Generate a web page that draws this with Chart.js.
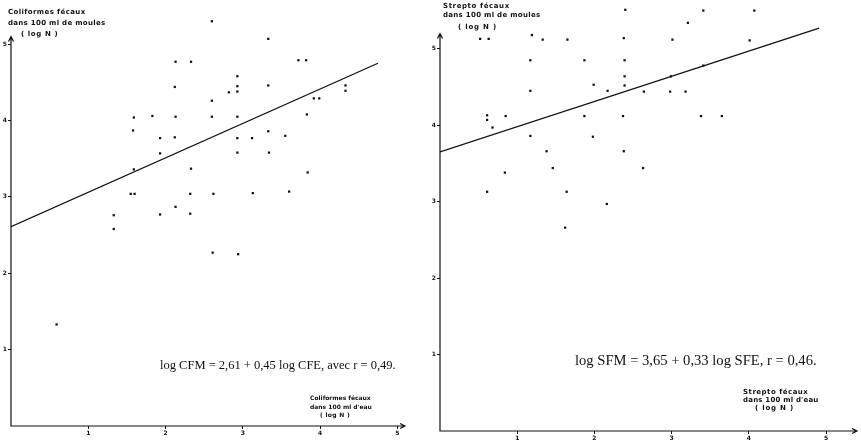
<!DOCTYPE html>
<html>
<head>
<meta charset="utf-8">
<script src="https://cdn.jsdelivr.net/npm/chart.js@4.4.1/dist/chart.umd.min.js"></script>
<style>
    body { margin: 0; background: #fff; }
    #wrap { position: relative; width: 861px; height: 444px; overflow: hidden; }
    .box { position: absolute; top: 0; height: 444px; }
    .lbl { position: absolute; white-space: nowrap; color: #111; font-family: "DejaVu Sans", sans-serif; font-weight: bold; line-height: 1; }
    .eq { position: absolute; white-space: nowrap; color: #111; font-family: "Liberation Serif", "Times New Roman", serif; line-height: 1; }
</style>
</head>
<body>
<div id="wrap">
    <div class="box" style="left:0;width:430px"><canvas id="cfChart"></canvas></div>
    <div class="box" style="left:430px;width:431px"><canvas id="sfChart"></canvas></div>
</div>
<script>
// Coliformes fecaux : log CFE (eau) -> log CFM (moules)
const cfeX = [2.60, 3.33, 2.13, 2.33, 3.72, 3.82, 2.93, 2.12, 2.93, 3.33,
              2.82, 2.93, 2.60, 3.92, 3.99, 4.33, 4.33, 1.59, 1.83, 2.13,
              2.60, 2.93, 3.83, 1.58, 1.93, 2.12, 2.93, 3.12, 3.33, 3.55,
              1.93, 2.93, 3.34, 1.59, 2.33, 3.84, 1.55, 1.60, 2.32, 2.62,
              3.13, 3.60, 1.33, 1.93, 2.13, 2.32, 1.33, 2.61, 2.94, 0.59];
const cfmY = [5.30, 5.07, 4.77, 4.77, 4.79, 4.79, 4.58, 4.44, 4.45, 4.46,
              4.37, 4.38, 4.26, 4.29, 4.29, 4.46, 4.39, 4.04, 4.06, 4.05,
              4.05, 4.05, 4.08, 3.87, 3.77, 3.78, 3.77, 3.77, 3.86, 3.80,
              3.57, 3.58, 3.58, 3.36, 3.37, 3.32, 3.04, 3.04, 3.04, 3.04,
              3.05, 3.07, 2.76, 2.77, 2.87, 2.78, 2.58, 2.27, 2.25, 1.33];

// Streptocoques fecaux : log SFE (eau) -> log SFM (moules)
const sfeX = [2.40, 3.41, 4.07, 3.21, 0.52, 0.63, 1.19, 1.33, 1.65, 2.38,
              3.01, 4.01, 1.17, 1.87, 2.39, 2.39, 2.99, 3.41, 1.99, 2.39,
              2.17, 2.64, 2.98, 3.18, 1.17, 0.61, 0.61, 0.68, 0.85, 1.87,
              2.37, 3.38, 3.65, 1.17, 1.98, 1.38, 2.38, 1.46, 2.63, 0.84,
              0.61, 1.64, 2.16, 1.62];
const sfmY = [5.51, 5.50, 5.50, 5.34, 5.13, 5.13, 5.18, 5.12, 5.12, 5.14,
              5.12, 5.11, 4.85, 4.85, 4.85, 4.64, 4.64, 4.78, 4.53, 4.52,
              4.45, 4.44, 4.44, 4.44, 4.45, 4.13, 4.07, 3.97, 4.12, 4.12,
              4.12, 4.12, 4.12, 3.86, 3.85, 3.66, 3.66, 3.44, 3.44, 3.38,
              3.13, 3.13, 2.97, 2.66];

// regression line ends
const cfLineX = [0, 4.75];
const cfLineY = [2.61, 4.75];
const sfLineX = [0, 4.91];
const sfLineY = [3.65, 5.27];

const xTicks = [1, 2, 3, 4, 5];
const yTicks = [1, 2, 3, 4, 5];

const toPoints = (xs, ys) => xs.map((x, i) => ({ x, y: ys[i] }));

// draws the two axes as arrows (the y axis stops below the highest points)
const arrowAxes = {
    id: 'arrowAxes',
    afterDatasetsDraw(chart, args, opts) {
        const { ctx, scales: { x, y } } = chart;
        const x0 = x.getPixelForValue(0);
        const y0 = y.getPixelForValue(0);
        const xEnd = x.getPixelForValue(opts.xEnd);
        const yEnd = y.getPixelForValue(opts.yEnd);
        ctx.save();
        ctx.strokeStyle = '#111';
        ctx.lineWidth = 1.2;
        ctx.beginPath();
        ctx.moveTo(x0, yEnd);
        ctx.lineTo(x0, y0);
        ctx.lineTo(xEnd, y0);
        // arrow heads
        ctx.moveTo(x0 - 2.5, yEnd + 5);
        ctx.lineTo(x0, yEnd);
        ctx.lineTo(x0 + 2.5, yEnd + 5);
        ctx.moveTo(xEnd - 5, y0 - 2.5);
        ctx.lineTo(xEnd, y0);
        ctx.lineTo(xEnd - 5, y0 + 2.5);
        ctx.stroke();
        ctx.restore();
    }
};

const makeChart = (canvasId, xs, ys, lx, ly, opts) => {
    return new Chart(document.getElementById(canvasId), {
        type: 'scatter',
        data: {
            datasets: [{
                data: toPoints(xs, ys),
                pointStyle: 'rect',
                pointRadius: 1.6,
                backgroundColor: '#111',
                borderColor: '#111',
                borderWidth: 0,
            }, {
                type: 'line',
                data: toPoints(lx, ly),
                borderColor: '#111',
                borderWidth: 1.3,
                pointRadius: 0,
                fill: false,
            }]
        },
        options: {
            responsive: true,
            maintainAspectRatio: false,
            animation: false,
            devicePixelRatio: 1,
            layout: { padding: { left: 0, top: opts.top, right: opts.right, bottom: 0 } },
            plugins: {
                legend: { display: false },
                tooltip: { enabled: false },
                arrowAxes: { xEnd: opts.xMax, yEnd: opts.yAxisEnd },
            },
            scales: {
                x: {
                    type: 'linear',
                    min: 0,
                    max: opts.xMax,
                    afterBuildTicks: scale => { scale.ticks = xTicks.map(v => ({ value: v })); },
                    afterFit: scale => { scale.height = opts.bottom; },
                    grid: { drawOnChartArea: false, drawTicks: true, tickLength: 3, color: '#111' },
                    border: { display: false },
                    ticks: { color: '#111', padding: 1, font: { family: 'DejaVu Sans', size: 6, weight: 'bold' } },
                },
                y: {
                    type: 'linear',
                    min: 0,
                    max: opts.yMax,
                    afterBuildTicks: scale => { scale.ticks = yTicks.map(v => ({ value: v })); },
                    afterFit: scale => { scale.width = opts.left; },
                    grid: { drawOnChartArea: false, drawTicks: true, tickLength: 3, color: '#111' },
                    border: { display: false },
                    ticks: { color: '#111', padding: 1, font: { family: 'DejaVu Sans', size: 6, weight: 'bold' } },
                }
            }
        },
        plugins: [arrowAxes]
    });
};

makeChart('cfChart', cfeX, cfmY, cfLineX, cfLineY, { top: 6, right: 25, bottom: 18, left: 11, xMax: 5.1, yMax: 5.50, yAxisEnd: 5.1 });
makeChart('sfChart', sfeX, sfmY, sfLineX, sfLineY, { top: 6, right: 4, bottom: 13, left: 10, xMax: 5.4, yMax: 5.56, yAxisEnd: 5.2 });

// axis titles and equations
const labels = [
    { t: 'Coliformes  fécaux', x: 8, y: 9, s: 7, ls: 0.4 },
    { t: 'dans 100 ml de moules', x: 8, y: 20, s: 7, ls: 0.3 },
    { t: '(  log N  )', x: 21, y: 31, s: 7, ls: 0.6 },
    { t: 'Strepto  fécaux', x: 443, y: 3, s: 7, ls: 0.6 },
    { t: 'dans 100 ml de moules', x: 443, y: 12, s: 7, ls: 0.3 },
    { t: '(  log N  )', x: 458, y: 24, s: 7, ls: 0.8 },
    { t: 'Coliformes  fécaux', x: 310, y: 395, s: 6, ls: 0 },
    { t: "dans 100 ml d'eau", x: 310, y: 404, s: 6, ls: 0 },
    { t: '(  log N  )', x: 320, y: 412, s: 6, ls: 0.3 },
    { t: 'Strepto  fécaux', x: 743, y: 389, s: 7, ls: 0.5 },
    { t: "dans 100 ml d'eau", x: 743, y: 397, s: 7, ls: 0.2 },
    { t: '(  log N  )', x: 755, y: 405, s: 7, ls: 0.8 },
];
const wrap = document.getElementById('wrap');
labels.forEach(l => {
    const d = document.createElement('div');
    d.className = 'lbl';
    d.textContent = l.t;
    d.style.left = l.x + 'px';
    d.style.top = l.y + 'px';
    d.style.fontSize = l.s + 'px';
    d.style.letterSpacing = l.ls + 'px';
    wrap.appendChild(d);
});

const equations = [
    { t: 'log CFM = 2,61 + 0,45 log CFE, avec r = 0,49.', x: 160, y: 359, s: 12.5 },
    { t: 'log SFM = 3,65 + 0,33 log SFE, r = 0,46.', x: 575, y: 353, s: 14.6 },
];
equations.forEach(e => {
    const d = document.createElement('div');
    d.className = 'eq';
    d.textContent = e.t;
    d.style.left = e.x + 'px';
    d.style.top = e.y + 'px';
    d.style.fontSize = e.s + 'px';
    wrap.appendChild(d);
});
</script>
</body>
</html>
